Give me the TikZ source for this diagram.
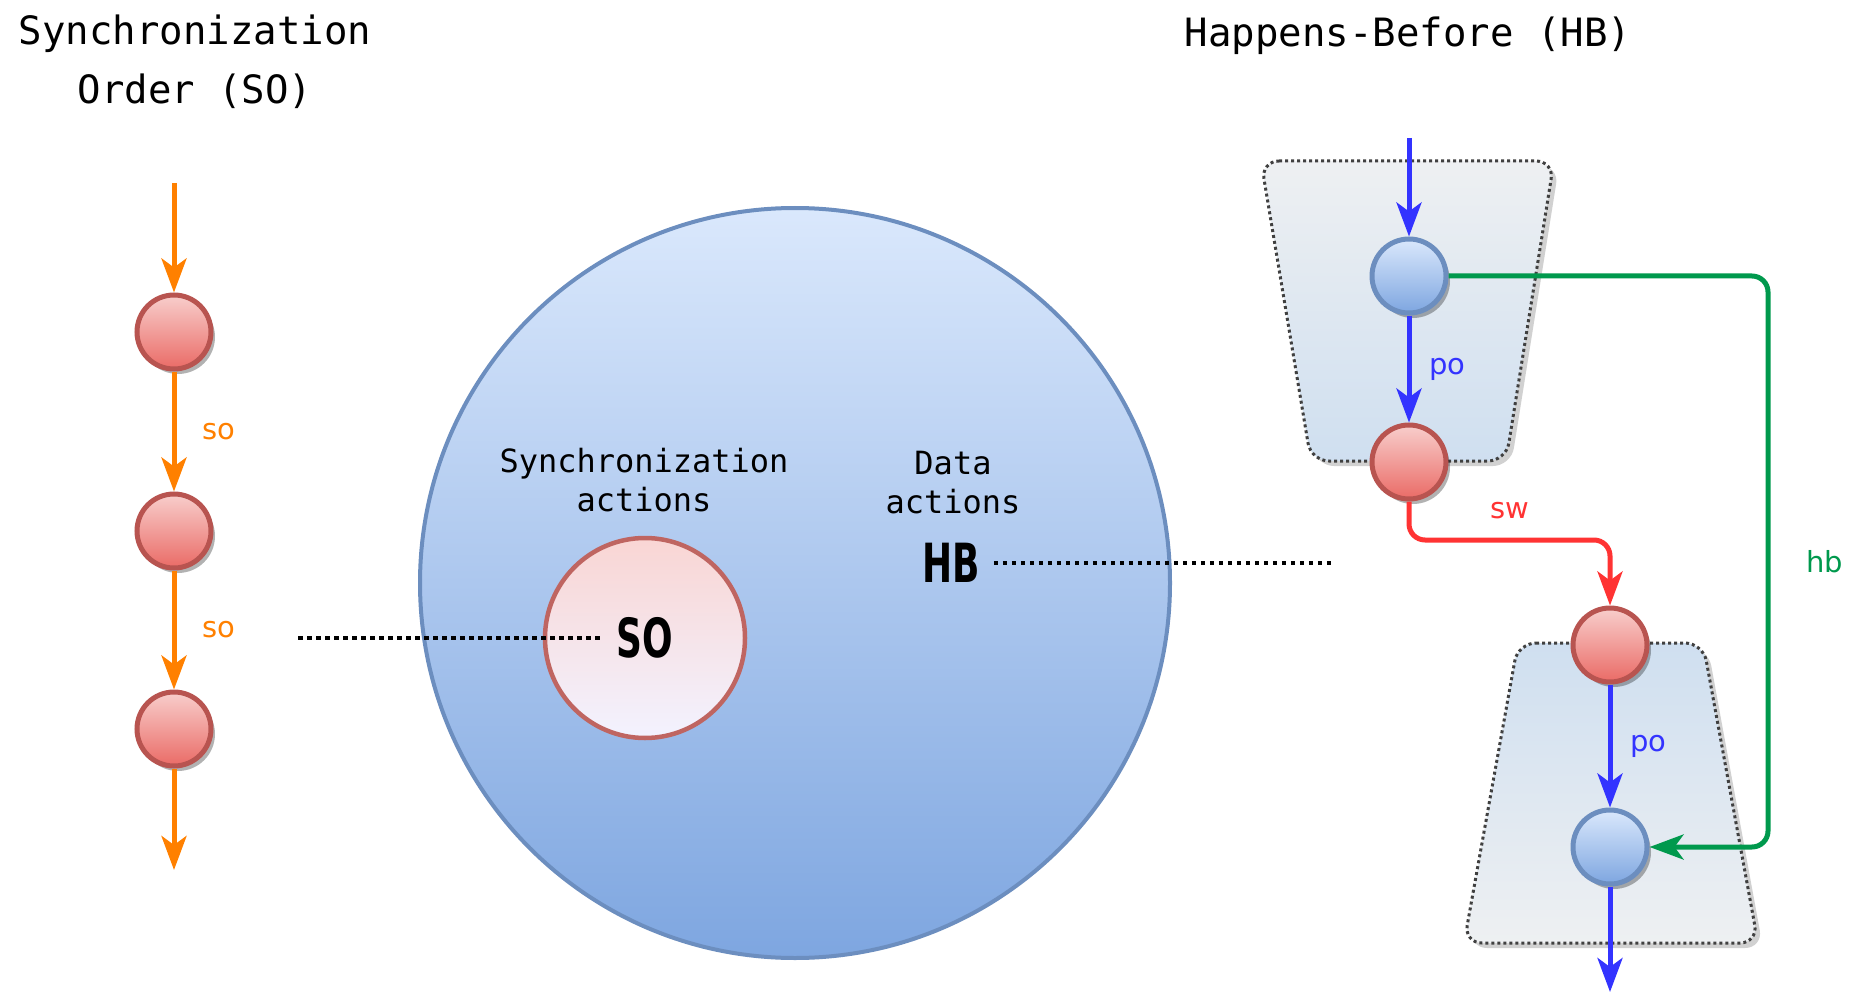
\documentclass[tikz,border=0pt]{standalone}
\usepackage{fontspec}
\setmainfont{DejaVu Sans}
\setmonofont{DejaVu Sans Mono}
\newfontfamily\setnamefont[FakeStretch=0.74]{DejaVu Sans Condensed Bold}
\usetikzlibrary{arrows.meta,shadows,positioning}

\definecolor{soorange}{HTML}{FF8000}
\definecolor{poblue}{HTML}{3333FF}
\definecolor{swred}{HTML}{FF3333}
\definecolor{hbgreen}{HTML}{00994D}
\definecolor{redline}{HTML}{B85450}
\definecolor{redtop}{HTML}{F8CECC}
\definecolor{redbot}{HTML}{EA6B66}
\definecolor{blueline}{HTML}{6C8EBF}
\definecolor{bluetop}{HTML}{DAE8FC}
\definecolor{bluebot}{HTML}{7EA6E0}
\definecolor{grayfill}{HTML}{EEF0F2}
\definecolor{paleblue}{HTML}{CFDFF0}

\tikzset{
  event/.style={circle, minimum size=74pt, inner sep=0pt, line width=5pt,
    drop shadow={shadow xshift=4pt, shadow yshift=-5pt, fill=black, opacity=0.3}},
  syncevent/.style={event, draw=redline, top color=redtop, bottom color=redbot},
  dataevent/.style={event, draw=blueline, top color=bluetop, bottom color=bluebot},
  rel/.style={line width=5pt, -{Stealth[length=34pt,width=25pt,inset=9pt]}},
  relname/.style={font=\fontsize{29}{33}\selectfont, inner sep=2pt},
  title/.style={font=\ttfamily\fontsize{39}{59}\selectfont, align=center},
  setlabel/.style={font=\ttfamily\fontsize{32}{39}\selectfont, align=center},
  setname/.style={font=\setnamefont\fontsize{54}{58}\selectfont, inner sep=14pt},
  pointer/.style={line width=4.5pt, dash pattern=on 4.5pt off 4.5pt},
  thread/.style={draw=black!75, line width=3pt, dash pattern=on 3pt off 3pt,
    rounded corners=18pt,
    drop shadow={shadow xshift=5pt, shadow yshift=-5pt, fill=black, opacity=0.18}}
}

\begin{document}
\begin{tikzpicture}[x=1pt, y=-1pt]
  \useasboundingbox (0,0) rectangle (1852,1008);

  % titles
  \node[title] (sotitle) at (195,62) {Synchronization\\Order (SO)};
  \node[title] (hbtitle) at (1408,36) {Happens-Before (HB)};

  % the set of all actions
  \node[circle, minimum size=750pt, line width=4pt, draw=blueline,
        top color=bluetop, bottom color=bluebot] (allset) at (795,583) {};
  \node[circle, minimum size=200pt, line width=4.5pt, draw=redline!90,
        top color=redtop!85!white, bottom color=white!95!blue] (soset) at (645,638) {};
  \node[setlabel] (synclabel) at (644,480) {Synchronization\\actions};
  \node[setlabel] (datalabel) at (953,483) {Data\\actions};
  \node[setname] (soname) at (soset.center) {SO};
  \node[setname] (hbname) at (951,563) {HB};
  \coordinate (solink) at (298,638);
  \coordinate (hblink) at (1331,563);
  \draw[pointer] (solink) -- (soname.west);
  \draw[pointer] (hbname.east) -- (hblink);

  % synchronization order
  \coordinate (sotop) at (174,183);
  \coordinate (sobot) at (174,870);
  \node[syncevent] (s1) at (174,332) {};
  \node[syncevent] (s2) at (174,531) {};
  \node[syncevent] (s3) at (174,729) {};
  \draw[rel, soorange] (sotop) -- (s1);
  \draw[rel, soorange] (s1) -- node[relname, right=24pt] {so} (s2);
  \draw[rel, soorange] (s2) -- node[relname, right=24pt] {so} (s3);
  \draw[rel, soorange] (s3) -- (sobot);

  % threads
  \draw[thread, top color=grayfill, bottom color=paleblue]
    (1261,161) -- (1554,161) -- (1506,461) -- (1311,461) -- cycle;
  \draw[thread, top color=paleblue, bottom color=grayfill]
    (1518,643) -- (1703,643) -- (1758,943) -- (1464,943) -- cycle;

  % happens-before
  \coordinate (hbtop) at (1409,138);
  \coordinate (hbbot) at (1610,992);
  \node[dataevent] (b1) at (1409,276) {};
  \node[syncevent] (r1) at (1409,462) {};
  \node[syncevent] (r2) at (1610,645) {};
  \node[dataevent] (b2) at (1610,847) {};
  \draw[rel, poblue] (hbtop) -- (b1);
  \draw[rel, poblue] (b1) -- node[relname, right=16pt] {po} (r1);
  \draw[rel, swred, rounded corners=16pt] (r1) -- ++(0,78) -| node[relname, pos=0.25, above=17pt] {sw} (r2);
  \draw[rel, poblue] (r2) -- node[relname, right=16pt] {po} (b2);
  \draw[rel, poblue] (b2) -- (hbbot);
  \draw[rel, hbgreen, rounded corners=16pt] (b1) -- ++(359,0) |- node[relname, pos=0.25, right=34pt] {hb} (b2);
\end{tikzpicture}
\end{document}
